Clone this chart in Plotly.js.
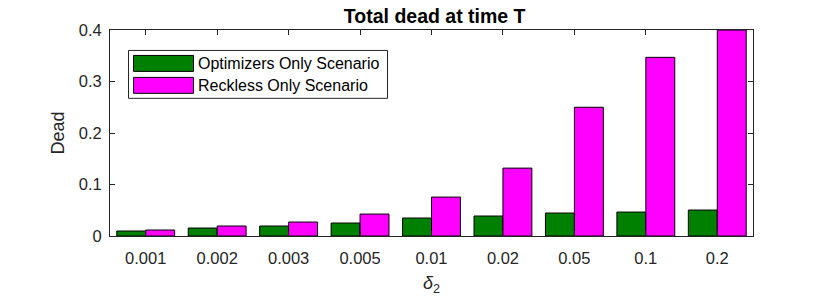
<!DOCTYPE html>
<html>
<head>
<meta charset="utf-8">
<script src="https://cdn.plot.ly/plotly-3.0.1.min.js"></script>
<style>html,body{margin:0;padding:0;background:#fff;}#chart{width:840px;height:300px;}</style>
</head>
<body>
<div id="chart"></div>
<script>
var categories = ["0.001","0.002","0.003","0.005","0.01","0.02","0.05","0.1","0.2"];
var optimizers = [0.0097,0.0155,0.0194,0.0252,0.0349,0.0388,0.0446,0.0465,0.0504];
var reckless = [0.0116,0.0194,0.0271,0.0426,0.0756,0.1318,0.2500,0.3469,0.4000];
var seriesNames = ["Optimizers Only Scenario","Reckless Only Scenario"];
var yTicks = [0,0.1,0.2,0.3,0.4];

var W = 840, H = 300;
var M = {l:110, r:87, t:30, b:63.5};
var pw = W - M.l - M.r, ph = H - M.t - M.b;
function px(x){ return (x - M.l)/pw; }
function py(y){ return (H - M.b - y)/ph; }

var axisCol = '#262626';
var font = 'Arial, "Liberation Sans", Helvetica, sans-serif';

var traces = [
  {type:'bar', x:categories, y:optimizers, name:seriesNames[0],
   marker:{color:'#008000', line:{color:'#000000', width:1}}},
  {type:'bar', x:categories, y:reckless, name:seriesNames[1],
   marker:{color:'#ff00ff', line:{color:'#000000', width:1}}}
];

var shapes = [
  {type:'rect', xref:'paper', yref:'paper', x0:px(128.5), x1:px(387.5), y0:py(98.5), y1:py(50.5),
   line:{color:axisCol, width:1}, fillcolor:'#ffffff', layer:'above'},
  {type:'rect', xref:'paper', yref:'paper', x0:px(133.5), x1:px(193.5), y0:py(71.5), y1:py(55.5),
   line:{color:'#000000', width:1}, fillcolor:'#008000', layer:'above'},
  {type:'rect', xref:'paper', yref:'paper', x0:px(133.5), x1:px(193.5), y0:py(93.5), y1:py(77.5),
   line:{color:'#000000', width:1}, fillcolor:'#ff00ff', layer:'above'}
];
var annotations = [
  {xref:'paper', yref:'paper', x:px(196), y:py(63.5), xanchor:'left', yanchor:'middle', showarrow:false,
   text:seriesNames[0], font:{family:font, size:16, color:'#000000'}},
  {xref:'paper', yref:'paper', x:px(196), y:py(85.5), xanchor:'left', yanchor:'middle', showarrow:false,
   text:seriesNames[1], font:{family:font, size:16, color:'#000000'}}
];

var layout = {
  width:W, height:H,
  margin:{l:M.l, r:M.r, t:M.t, b:M.b, pad:0},
  paper_bgcolor:'#ffffff', plot_bgcolor:'#ffffff',
  showlegend:false,
  barmode:'group', bargap:0.19, bargroupgap:0,
  title:{text:'<b>Total dead at time T</b>', x:0.5175, xanchor:'center', y:0.947, yanchor:'middle',
         font:{family:font, size:19.5, color:'#000000'}},
  xaxis:{type:'category', range:[-0.5,8.5], showline:true, linecolor:axisCol, linewidth:1, mirror:'ticks',
         ticks:'inside', ticklen:5, tickcolor:axisCol, showgrid:false, zeroline:false,
         ticklabelstandoff:7,
         tickfont:{family:font, size:16.5, color:axisCol},
         title:{text:'<i>δ</i><sub>2</sub>', standoff:10, font:{family:font, size:18, color:axisCol}}},
  yaxis:{range:[0,0.4], tickvals:yTicks, showline:true, linecolor:axisCol, linewidth:1, mirror:'ticks',
         ticks:'inside', ticklen:5, tickcolor:axisCol, showgrid:false, zeroline:false,
         ticklabelstandoff:4,
         tickfont:{family:font, size:16.5, color:axisCol},
         title:{text:'Dead', standoff:9, font:{family:font, size:18, color:axisCol}}},
  shapes:shapes, annotations:annotations
};

Plotly.newPlot('chart', traces, layout, {staticPlot:true, displayModeBar:false});
</script>
</body>
</html>
